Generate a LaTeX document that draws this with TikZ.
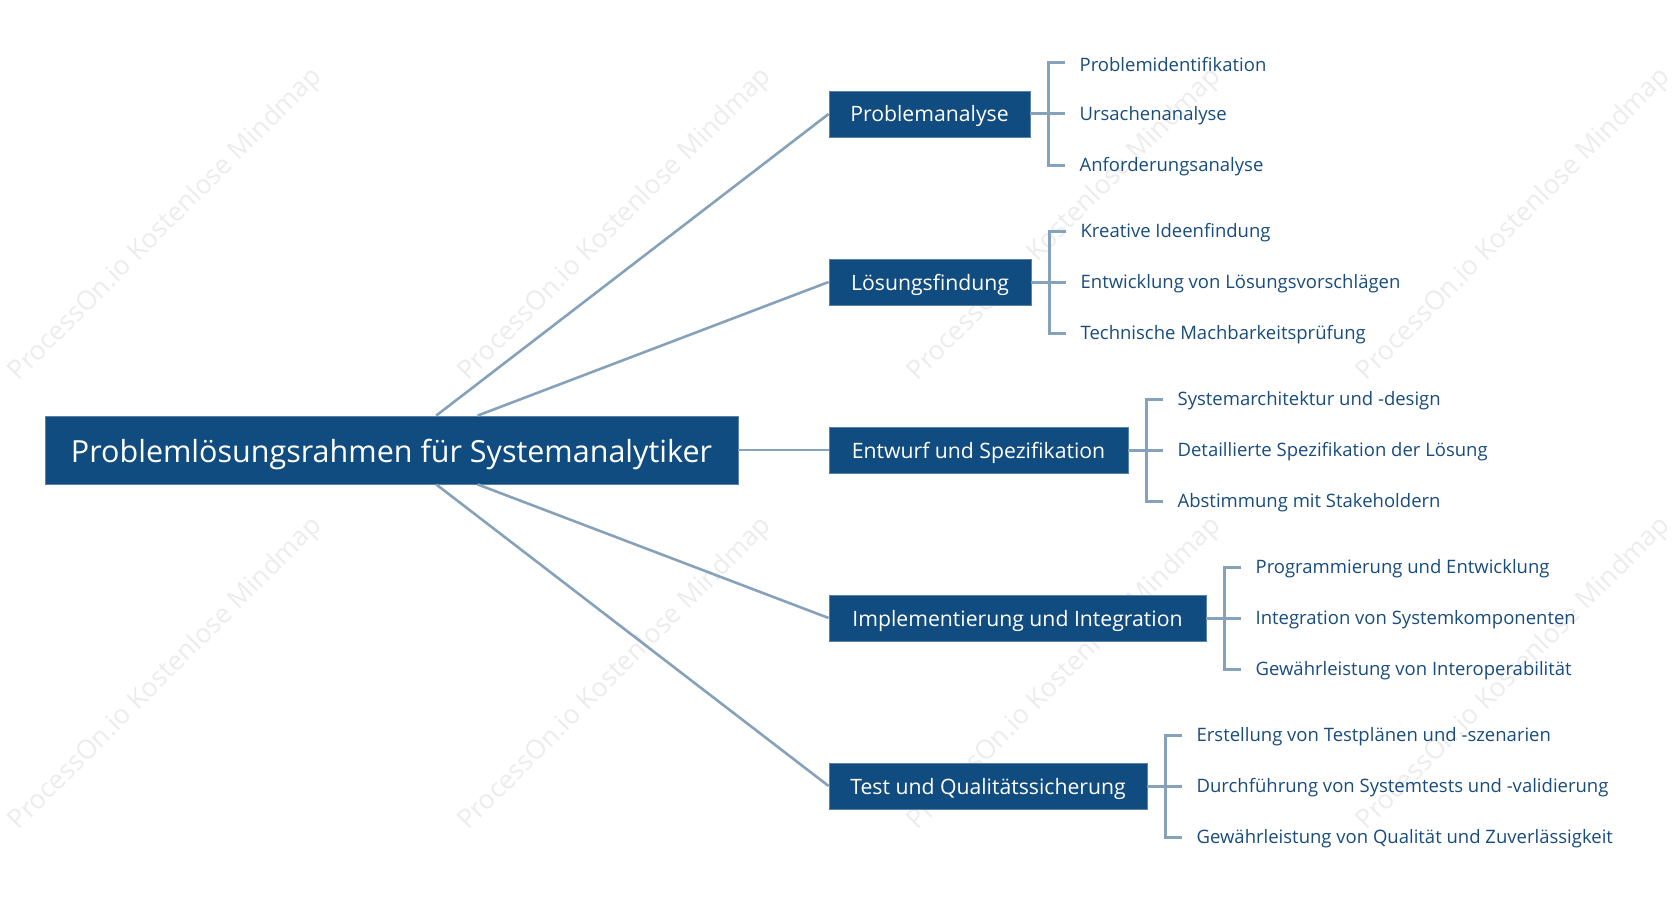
\documentclass[tikz,border=0pt]{standalone}
\usepackage{fontspec}
\setmainfont{Open Sans}
\usetikzlibrary{calc}
\definecolor{boxblue}{HTML}{114C80}
\definecolor{linecol}{HTML}{86A2BB}
\definecolor{leafcol}{HTML}{184C7E}
\definecolor{wmcol}{HTML}{ECECEC}
\tikzset{
  rootbox/.style={fill=boxblue, draw=boxblue!70!white, line width=0.8pt, text=white, font=\fontsize{30.5}{34}\selectfont, minimum height=68pt, inner sep=0pt, text height=25.6pt, text depth=1pt},
  branchbox/.style={fill=boxblue, draw=boxblue!70!white, line width=0.8pt, text=white, font=\fontsize{21.2}{24}\selectfont, minimum height=46pt, inner sep=0pt, text height=17pt, text depth=1pt},
  leaf/.style={anchor=west, text=leafcol, font=\fontsize{18.5}{22}\selectfont, inner sep=0pt, yshift=-1.2pt},
  conn/.style={draw=linecol, line width=2.6pt},
  brk/.style={draw=linecol, line width=3pt},
  wm/.style={text=wmcol, font=\fontsize{26.5}{30}\selectfont, rotate=45, inner sep=0pt}
}
\begin{document}
\begin{tikzpicture}[x=1pt,y=-1pt]
\useasboundingbox (0,0) rectangle (1678,915);
% watermarks
\foreach \wx in {166,615.5,1065,1514}{
  \foreach \wy in {225,674}{
    \node[wm] at (\wx,\wy) {ProcessOn.io Kostenlose Mindmap};
  }
}
% root connectors
\coordinate (rc) at (391.5,450);
% root
\node[rootbox, minimum width=693pt] (root) at (rc) {Problemlösungsrahmen für Systemanalytiker};
% branches
\node[branchbox, minimum width=201pt] (b1) at (929.5,114) {Problemanalyse};
\node[branchbox, minimum width=202pt] (b2) at (930,282) {Lösungsfindung};
\node[branchbox, minimum width=299pt] (b3) at (978.5,450) {Entwurf und Spezifikation};
\node[branchbox, minimum width=377pt] (b4) at (1017.5,618) {Implementierung und Integration};
\node[branchbox, minimum width=318pt] (b5) at (988,786) {Test und Qualitätssicherung};
\draw[conn] ($(root.north west)+(391.6,0)$) -- (b1.west);
\draw[conn] ($(root.north west)+(433,0)$) -- (b2.west);
\draw[conn] (root.east) -- (b3.west);
\draw[conn] ($(root.south west)+(433,0)$) -- (b4.west);
\draw[conn] ($(root.south west)+(391.6,0)$) -- (b5.west);
% brackets and leaves
\foreach \b/\la/\lb/\lc in {
  b1/Problemidentifikation/Ursachenanalyse/Anforderungsanalyse,
  b2/Kreative Ideenfindung/Entwicklung von Lösungsvorschlägen/Technische Machbarkeitsprüfung,
  b3/Systemarchitektur und -design/Detaillierte Spezifikation der Lösung/Abstimmung mit Stakeholdern,
  b4/Programmierung und Entwicklung/Integration von Systemkomponenten/Gewährleistung von Interoperabilität,
  b5/Erstellung von Testplänen und -szenarien/Durchführung von Systemtests und -validierung/Gewährleistung von Qualität und Zuverlässigkeit}{
  \coordinate (\b k) at ($(\b.east)+(18,0)$);
  \coordinate (\b ka) at ($(\b k)+(0,-51)$);
  \coordinate (\b kc) at ($(\b k)+(0,51)$);
  \node[leaf] (\b la) at ($(\b ka)+(31,0)$) {\la};
  \node[leaf] (\b lb) at ($(\b k)+(31,0)$) {\lb};
  \node[leaf] (\b lc) at ($(\b kc)+(31,0)$) {\lc};
  \draw[brk] (\b.east) -- ($(\b k)+(17,0)$);
  \draw[brk] ($(\b ka)+(17,0)$) -- (\b ka) -- (\b kc) -- ($(\b kc)+(17,0)$);
}
\end{tikzpicture}
\end{document}
